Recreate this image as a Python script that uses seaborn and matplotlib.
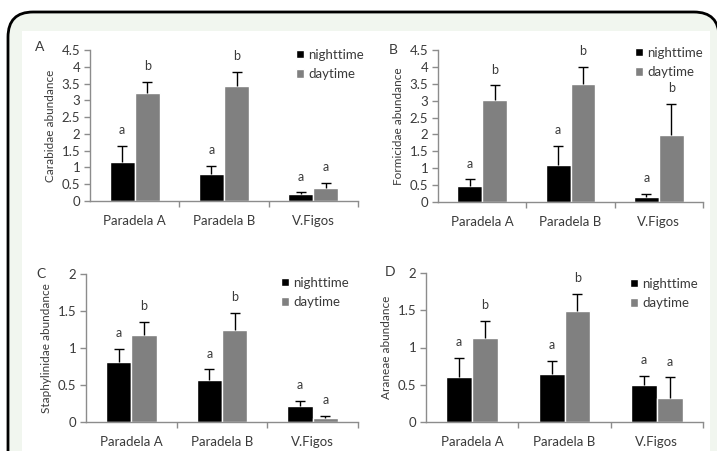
import matplotlib
matplotlib.use("Agg")
import matplotlib.pyplot as plt
from matplotlib.patches import FancyBboxPatch, Rectangle, Patch
import seaborn as sns
import pandas as pd
import numpy as np

sites = ["Paradela A", "Paradela B", "V.Figos"]
periods = ["nighttime", "daytime"]

carabidae_night = [1.15, 0.81, 0.21]
carabidae_night_se = [0.49, 0.23, 0.05]
carabidae_day = [3.21, 3.43, 0.39]
carabidae_day_se = [0.33, 0.42, 0.15]
carabidae_letters = [["a", "a", "a"], ["b", "b", "a"]]

formicidae_night = [0.47, 1.10, 0.16]
formicidae_night_se = [0.20, 0.57, 0.08]
formicidae_day = [3.02, 3.49, 1.99]
formicidae_day_se = [0.43, 0.51, 0.91]
formicidae_letters = [["a", "a", "a"], ["b", "b", "b"]]

staph_night = [0.81, 0.57, 0.21]
staph_night_se = [0.18, 0.14, 0.08]
staph_day = [1.17, 1.25, 0.05]
staph_day_se = [0.18, 0.22, 0.03]
staph_letters = [["a", "a", "a"], ["b", "b", "a"]]

araneae_night = [0.61, 0.65, 0.49]
araneae_night_se = [0.25, 0.17, 0.13]
araneae_day = [1.13, 1.49, 0.32]
araneae_day_se = [0.23, 0.23, 0.28]
araneae_letters = [["a", "a", "a"], ["b", "b", "a"]]

W, H = 717, 451
TXT = "#3a3a3a"
AXC = "#8c8c8c"

sns.set_style("white")
plt.rcParams["font.family"] = ["Lato", "DejaVu Sans"]

fig = plt.figure(figsize=(W / 100, H / 100), dpi=100)
fig.patch.set_facecolor("white")

# frame: rounded green box with black border, white panel inside
frame = FancyBboxPatch((8 / W, -0.2), (711 / W), (1 - 12 / H) + 0.2,
                       boxstyle="round,pad=0,rounding_size=0.035",
                       transform=fig.transFigure, facecolor="#f1f6ef",
                       edgecolor="black", linewidth=2, zorder=-2,
                       mutation_aspect=W / H)
fig.patches.append(frame)
fig.patches.append(Rectangle((22 / W, 0), (710 - 22) / W, 1 - 31 / H,
                             transform=fig.transFigure, facecolor="white",
                             edgecolor="none", zorder=-1))


def px_axes(x0, x1, ytop, ybot):
    return fig.add_axes([x0 / W, 1 - ybot / H, (x1 - x0) / W, (ybot - ytop) / H])


def panel(ax, night, night_se, day, day_se, letters, ymax, ystep, ylabel,
          tag, tag_xy, leg_xy):
    df = pd.DataFrame({
        "site": sites * 2,
        "period": [periods[0]] * 3 + [periods[1]] * 3,
        "value": list(night) + list(day),
    })
    sns.barplot(data=df, x="site", y="value", hue="period", order=sites,
                hue_order=periods, palette=["black", "#808080"], width=0.56,
                errorbar=None, saturation=1, ax=ax, legend=False, zorder=2)
    ax.set_facecolor("none")
    ses = [night_se, day_se]
    vals = [night, day]
    bars = list(ax.containers)
    for i, cont in enumerate(bars):
        xs = np.array([p.get_x() + p.get_width() / 2 for p in cont.patches])
        v = np.array(vals[i])
        s = np.array(ses[i])
        ax.errorbar(xs, v, yerr=[np.zeros_like(s), s], fmt="none",
                    ecolor="black", elinewidth=1, capsize=0, zorder=3)
        ax.plot(xs, v + s, ls="none", marker="_", ms=7, mew=1,
                color="black", zorder=3)
        for x, top, lab in zip(xs, v + s, letters[i]):
            ax.annotate(lab, (x, top), xytext=(0, 7), textcoords="offset points",
                        ha="center", va="bottom", fontsize=9, color=TXT)
    ax.set_xlim(-0.5, 2.5)
    ax.set_ylim(0, ymax)
    ax.set_yticks(np.arange(0, ymax + 1e-9, ystep))
    ax.set_yticklabels([f"{t:g}" for t in np.arange(0, ymax + 1e-9, ystep)])
    ax.set_xticks([0.5, 1.5, 2.5], minor=True)
    ax.tick_params(axis="x", which="major", length=0, pad=10, labelsize=9.5,
                   labelcolor=TXT)
    ax.tick_params(axis="x", which="minor", length=4, color=AXC, width=1,
                   direction="out", bottom=True)
    ax.tick_params(axis="y", length=4, color=AXC, width=1, direction="out",
                   left=True, labelsize=9.5, labelcolor=TXT, pad=3)
    for side in ["top", "right"]:
        ax.spines[side].set_visible(False)
    for side in ["left", "bottom"]:
        ax.spines[side].set_color(AXC)
        ax.spines[side].set_linewidth(1)
    ax.set_xlabel("")
    ax.set_ylabel(ylabel, fontsize=8.5, color=TXT, labelpad=4)
    fig.text(tag_xy[0] / W, 1 - tag_xy[1] / H, tag, fontsize=10, color=TXT,
             ha="left", va="center")
    handles = [Patch(facecolor="black"), Patch(facecolor="#808080")]
    ax.legend(handles, periods, loc="upper left",
              bbox_to_anchor=(leg_xy[0] / W, 1 - leg_xy[1] / H),
              bbox_transform=fig.transFigure, frameon=False, borderpad=0,
              handlelength=0.65, handleheight=0.65, handletextpad=0.3,
              labelspacing=0.55, fontsize=9.5, labelcolor=TXT)


axA = px_axes(90, 358, 50, 201)
panel(axA, carabidae_night, carabidae_night_se, carabidae_day, carabidae_day_se,
      carabidae_letters, 4.5, 0.5, "Carabidae abundance", "A", (35, 47), (289, 42))

axB = px_axes(438, 703, 50, 202)
panel(axB, formicidae_night, formicidae_night_se, formicidae_day, formicidae_day_se,
      formicidae_letters, 4.5, 0.5, "Formicidae abundance", "B", (389, 50), (628, 40))

axC = px_axes(86, 358, 274, 422)
panel(axC, staph_night, staph_night_se, staph_day, staph_day_se,
      staph_letters, 2, 0.5, "Staphylinidae abundance", "C", (36, 274), (274, 270))

axD = px_axes(426, 703, 273, 422)
panel(axD, araneae_night, araneae_night_se, araneae_day, araneae_day_se,
      araneae_letters, 2, 0.5, "Araneae abundance", "D", (385, 272), (623, 271))

fig.savefig("out.png", dpi=100)
